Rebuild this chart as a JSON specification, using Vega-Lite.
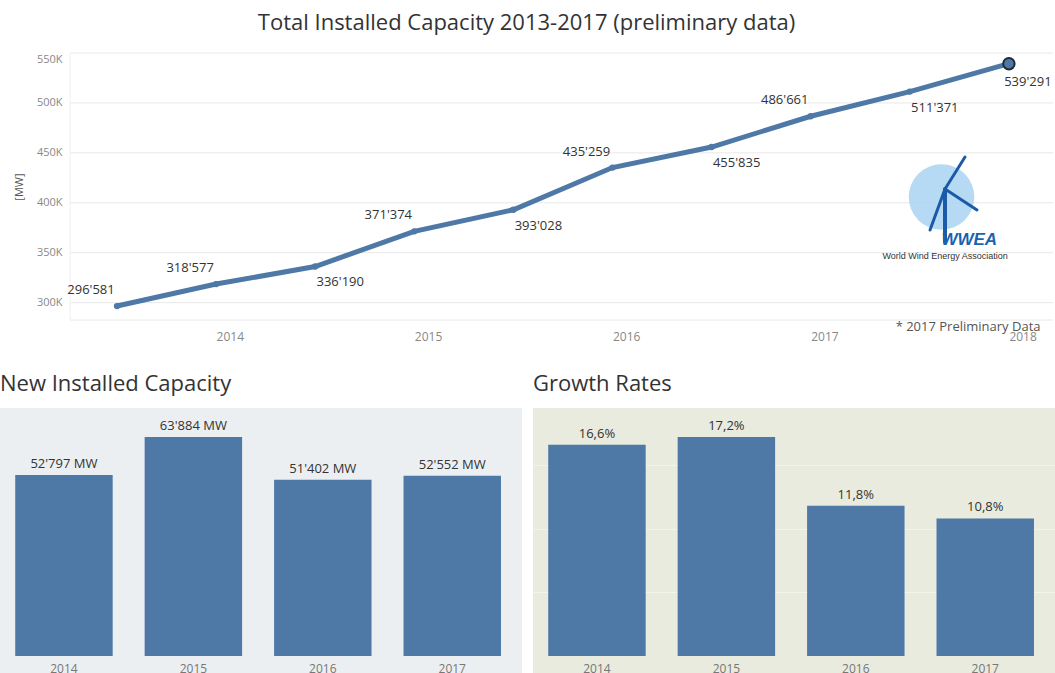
{
  "$schema": "https://vega.github.io/schema/vega-lite/v6.json",
  "background": "white",
  "padding": {"left": 0, "top": 11, "right": 0, "bottom": 0},
  "spacing": 31,
  "config": {
    "font": "Open Sans",
    "locale": {"number": {"decimal": ",", "thousands": "'", "grouping": [3], "currency": ["", ""]}},
    "view": {"stroke": null},
    "axis": {"labelFont": "Open Sans", "titleFont": "Open Sans", "labelColor": "#888888", "labelFontSize": 11},
    "title": {"font": "Open Sans", "fontWeight": "normal", "fontSize": 22, "color": "#333333"}
  },
  "datasets": {
    "total": [
      {"t": 2013.5, "cap": 296581},
      {"t": 2014.0, "cap": 318577},
      {"t": 2014.5, "cap": 336190},
      {"t": 2015.0, "cap": 371374},
      {"t": 2015.5, "cap": 393028},
      {"t": 2016.0, "cap": 435259},
      {"t": 2016.5, "cap": 455835},
      {"t": 2017.0, "cap": 486661},
      {"t": 2017.5, "cap": 511371},
      {"t": 2018.0, "cap": 539291}
    ],
    "gridlevels": [
      {"t": 2013.263, "t2": 2018.2225, "cap": 282600},
      {"t": 2013.263, "t2": 2018.2225, "cap": 300000},
      {"t": 2013.263, "t2": 2018.2225, "cap": 350000},
      {"t": 2013.263, "t2": 2018.2225, "cap": 400000},
      {"t": 2013.263, "t2": 2018.2225, "cap": 450000},
      {"t": 2013.263, "t2": 2018.2225, "cap": 500000},
      {"t": 2013.263, "t2": 2018.2225, "cap": 550000}
    ],
    "newcap": [
      {"year": "2014", "mw": 52797},
      {"year": "2015", "mw": 63884},
      {"year": "2016", "mw": 51402},
      {"year": "2017", "mw": 52552}
    ],
    "growth": [
      {"year": "2014", "g": 16.6},
      {"year": "2015", "g": 17.2},
      {"year": "2016", "g": 11.8},
      {"year": "2017", "g": 10.8}
    ]
  },
  "vconcat": [
    {
      "width": 1053,
      "height": 267,
      "title": {"text": "Total Installed Capacity 2013-2017 (preliminary data)", "anchor": "middle", "offset": 18},
      "encoding": {
        "x": {
          "field": "t", "type": "quantitative",
          "scale": {"domain": [2012.9097, 2018.2225], "nice": false, "zero": false},
          "axis": {
            "values": [2014, 2015, 2016, 2017, 2018], "format": "d", "grid": false,
            "ticks": false, "tickSize": 0, "domain": false,
            "labelAlign": "left", "labelDx": 1, "labelPadding": 11, "labelFontSize": 12,
            "title": "* 2017 Preliminary Data", "titleAnchor": "end", "titleAlign": "right",
            "titleX": 1040, "titleY": 6, "titleBaseline": "middle", "titleFontSize": 13,
            "titleFontWeight": "normal", "titleColor": "#555555"
          }
        },
        "y": {
          "field": "cap", "type": "quantitative",
          "scale": {"domain": [282600, 550000], "nice": false, "zero": false},
          "axis": {
            "values": [300000, 350000, 400000, 450000, 500000, 550000],
            "labelExpr": "format(datum.value / 1000, 'd') + 'K'",
            "labelFlush": true, "grid": false,
            "offset": -70,
            "ticks": false, "tickSize": 0, "domain": false, "labelPadding": 8,
            "title": "[MW]", "titleFontSize": 11, "titleFontWeight": "normal",
            "titleColor": "#555555", "titlePadding": 12
          }
        }
      },
      "layer": [
        {
          "data": {"name": "gridlevels"},
          "mark": {"type": "rule", "color": "#e8e8e8", "strokeWidth": 1},
          "encoding": {
            "x2": {"field": "t2"}
          }
        },
        {
          "data": {"name": "total"},
          "transform": [{"filter": "datum.t == 2018"}],
          "mark": {"type": "rule", "color": "#f0f0f0", "strokeWidth": 1},
          "encoding": {"x": {"datum": 2013.263}, "y": {"datum": 282600}, "x2": {"datum": 2013.263}, "y2": {"datum": 550000}}
        },
        {
          "data": {"name": "total"},
          "transform": [{"filter": "datum.t == 2018"}],
          "mark": {"type": "point", "filled": true, "size": 4300, "color": "#a9d3f2", "opacity": 0.85},
          "encoding": {"x": {"datum": 2017.660}, "y": {"datum": 405800}}
        },
        {
          "data": {"name": "total"},
          "transform": [{"filter": "datum.t == 2018"}],
          "mark": {"type": "rule", "color": "#1a5aa8", "strokeWidth": 4, "strokeCap": "round"},
          "encoding": {"x": {"datum": 2017.6776}, "y": {"datum": 413796}, "x2": {"datum": 2017.6776}, "y2": {"datum": 360716}}
        },
        {
          "data": {"name": "total"},
          "transform": [{"filter": "datum.t == 2018"}],
          "mark": {"type": "rule", "color": "#1a5aa8", "strokeWidth": 3, "strokeCap": "round"},
          "encoding": {"x": {"datum": 2017.6776}, "y": {"datum": 413796}, "x2": {"datum": 2017.7785}, "y2": {"datum": 445844}}
        },
        {
          "data": {"name": "total"},
          "transform": [{"filter": "datum.t == 2018"}],
          "mark": {"type": "rule", "color": "#1a5aa8", "strokeWidth": 3, "strokeCap": "round"},
          "encoding": {"x": {"datum": 2017.6776}, "y": {"datum": 413796}, "x2": {"datum": 2017.6020}, "y2": {"datum": 372734}}
        },
        {
          "data": {"name": "total"},
          "transform": [{"filter": "datum.t == 2018"}],
          "mark": {"type": "rule", "color": "#1a5aa8", "strokeWidth": 3, "strokeCap": "round"},
          "encoding": {"x": {"datum": 2017.6776}, "y": {"datum": 413796}, "x2": {"datum": 2017.8390}, "y2": {"datum": 392764}}
        },
        {
          "data": {"name": "total"},
          "transform": [{"filter": "datum.t == 2018"}],
          "mark": {"type": "text", "text": "WWEA", "fontSize": 17, "fontWeight": "bold", "fontStyle": "italic", "color": "#1a63b0", "font": "Liberation Sans"},
          "encoding": {"x": {"datum": 2017.80}, "y": {"datum": 362700}}
        },
        {
          "data": {"name": "total"},
          "transform": [{"filter": "datum.t == 2018"}],
          "mark": {"type": "text", "text": "World Wind Energy Association", "fontSize": 9, "color": "#333333", "font": "Liberation Sans"},
          "encoding": {"x": {"datum": 2017.678}, "y": {"datum": 346700}}
        },
        {
          "data": {"name": "total"},
          "mark": {"type": "line", "color": "#4e79a7", "strokeWidth": 5, "strokeCap": "round"},
          "encoding": {}
        },
        {
          "data": {"name": "total"},
          "mark": {"type": "point", "filled": true, "size": 40, "color": "#4e79a7", "opacity": 1},
          "encoding": {}
        },
        {
          "data": {"name": "total"},
          "transform": [{"filter": "datum.t == 2018"}],
          "mark": {"type": "point", "filled": true, "size": 130, "color": "#4e79a7", "stroke": "#1e2a38", "strokeWidth": 2, "opacity": 1},
          "encoding": {}
        },
        {
          "data": {"name": "total"},
          "transform": [{"filter": "indexof([2013.5, 2014, 2015, 2016, 2017], datum.t) >= 0"}],
          "mark": {"type": "text", "dx": -26, "dy": -16, "fontSize": 13, "color": "#333333"},
          "encoding": {"text": {"field": "cap", "type": "quantitative", "format": ",d"}}
        },
        {
          "data": {"name": "total"},
          "transform": [{"filter": "indexof([2014.5, 2015.5, 2016.5, 2017.5], datum.t) >= 0"}],
          "mark": {"type": "text", "dx": 25, "dy": 16, "fontSize": 13, "color": "#333333"},
          "encoding": {"text": {"field": "cap", "type": "quantitative", "format": ",d"}}
        },
        {
          "data": {"name": "total"},
          "transform": [{"filter": "datum.t == 2018"}],
          "mark": {"type": "text", "dx": 19, "dy": 18, "fontSize": 13, "color": "#333333"},
          "encoding": {"text": {"field": "cap", "type": "quantitative", "format": ",d"}}
        }
      ]
    },
    {
      "spacing": 11,
      "hconcat": [
        {
          "width": 522,
          "height": 268,
          "view": {"fill": "#eceff2", "stroke": null},
          "title": {"text": "New Installed Capacity", "anchor": "start", "offset": 12},
          "data": {"name": "newcap"},
          "encoding": {
            "x": {
              "field": "year", "type": "ordinal",
              "scale": {"paddingInner": 0.247, "paddingOuter": 0.14, "align": 0.42},
              "axis": {"labelAngle": 0, "title": null, "domain": false, "ticks": false, "tickSize": 0, "offset": -20, "labelPadding": 7, "labelFontSize": 12, "labelColor": "#777777"}
            },
            "y": {
              "field": "mw", "type": "quantitative",
              "scale": {"domain": [-5834, 72345], "nice": false, "zero": false},
              "axis": null
            }
          },
          "layer": [
            {"mark": {"type": "bar", "color": "#4e79a7"}},
            {
              "transform": [{"calculate": "format(datum.mw, ',d') + ' MW'", "as": "label"}],
              "mark": {"type": "text", "dy": -11, "fontSize": 13, "color": "#333333"},
              "encoding": {"text": {"field": "label", "type": "nominal"}}
            }
          ]
        },
        {
          "width": 522,
          "height": 268,
          "view": {"fill": "#e8ebdd", "stroke": null},
          "title": {"text": "Growth Rates", "anchor": "start", "offset": 12},
          "data": {"name": "growth"},
          "encoding": {
            "x": {
              "field": "year", "type": "ordinal",
              "scale": {"paddingInner": 0.247, "paddingOuter": 0.14, "align": 0.42},
              "axis": {"labelAngle": 0, "title": null, "domain": false, "ticks": false, "tickSize": 0, "offset": -20, "labelPadding": 7, "labelFontSize": 12, "labelColor": "#777777"}
            },
            "y": {
              "field": "g", "type": "quantitative",
              "scale": {"domain": [-1.571, 19.477], "nice": false, "zero": false},
              "axis": {"values": [5, 10, 15], "labels": false, "ticks": false, "domain": false, "title": null, "grid": true, "gridColor": "#f3f4ec"}
            }
          },
          "layer": [
            {"mark": {"type": "bar", "color": "#4e79a7"}},
            {
              "transform": [{"calculate": "format(datum.g, '.1f') + '%'", "as": "label"}],
              "mark": {"type": "text", "dy": -11, "fontSize": 13, "color": "#333333"},
              "encoding": {"text": {"field": "label", "type": "nominal"}}
            }
          ]
        }
      ]
    }
  ]
}
